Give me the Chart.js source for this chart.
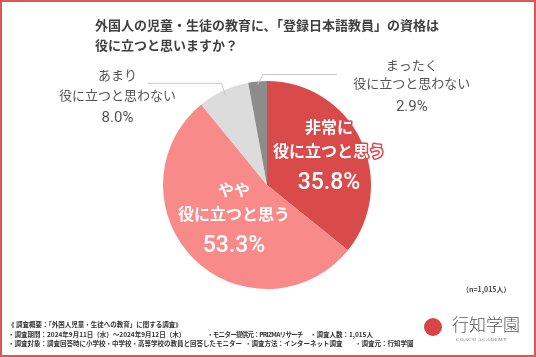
<!DOCTYPE html>
<html><head><meta charset="utf-8">
<script src="https://cdn.jsdelivr.net/npm/chart.js@4"></script>
<style>
body{margin:0;background:#fff}
#wrap{position:relative;width:536px;height:357px;overflow:hidden;background:#fff;font-family:"Noto Sans CJK JP","Noto Sans",sans-serif}
#frame{position:absolute;left:0;top:0;width:536px;height:357px;box-sizing:border-box;border:2px solid #e05555;pointer-events:none}
.t{position:absolute;white-space:nowrap}
.title{left:95px;font-size:13px;font-weight:700;color:#404040;line-height:20px}
.ft{font-size:6.5px;font-weight:700;color:#333;line-height:9px}
</style></head>
<body>
<div id="wrap">
<canvas id="c" width="536" height="357" style="position:absolute;left:0;top:0"></canvas>
<div class="t title" style="top:15px">外国人の児童・生徒の教育に、「登録日本語教員」の資格は</div>
<div class="t title" style="top:35px">役に立つと思いますか？</div>
<div class="t" style="left:462px;top:284px;font-size:7px;color:#444;font-weight:700">（n=1,015人）</div>
<div class="t ft" style="left:8px;top:320px">《 調査概要：「外国人児童・生徒への教育」に関する調査》</div>
<div class="t ft" style="left:8px;top:330px">・調査期間：2024年9月11日（水）～2024年9月12日（木）</div>
<div class="t ft" style="left:207px;top:330px;letter-spacing:-0.7px">・モニター提供元：PRIZMAリサーチ</div>
<div class="t ft" style="left:310px;top:330px">・調査人数：1,015人</div>
<div class="t ft" style="left:8px;top:339px">・調査対象：調査回答時に小学校・中学校・高等学校の教員と回答したモニター</div>
<div class="t ft" style="left:245px;top:339px">・調査方法：インターネット調査</div>
<div class="t ft" style="left:355px;top:339px">・調査元：行知学園</div>
<div style="position:absolute;left:424px;top:318px;width:18px;height:18px;border-radius:50%;background:#d94545"></div>
<div class="t" style="left:452px;top:313px;font-size:17px;line-height:22px;color:#555;font-weight:300">行知学園</div>
<div class="t" style="left:456px;top:337px;font-size:5px;line-height:6px;color:#777;font-family:'Liberation Serif',serif;letter-spacing:0.6px">COACH ACADEMY</div>
<div id="frame"></div>
</div>
<script>
const categories = ['非常に役に立つと思う', 'やや役に立つと思う', 'あまり役に立つと思わない', 'まったく役に立つと思わない'];
const labelLines = [['非常に', '役に立つと思う'], ['やや', '役に立つと思う'], ['あまり', '役に立つと思わない'], ['まったく', '役に立つと思わない']];
const values = [35.8, 53.3, 8.0, 2.9];
const colors = ['#d94a4a', '#f98a8a', '#dcdcdc', '#8c8c8c'];

const labelPlugin = {
  id: 'sliceLabels',
  afterDatasetsDraw(chart) {
    const ctx = chart.ctx;
    const meta = chart.getDatasetMeta(0);
    ctx.save();
    ctx.textAlign = 'center';
    ctx.textBaseline = 'middle';
    meta.data.forEach((arc, i) => {
      const p = arc.getProps(['x', 'y', 'startAngle', 'endAngle', 'outerRadius'], true);
      const mid = (p.startAngle + p.endAngle) / 2;
      const at = f => [p.x + Math.cos(mid) * f * p.outerRadius, p.y + Math.sin(mid) * f * p.outerRadius];
      const pct = values[i].toFixed(1) + '%';
      if (i < 2) {
        const [ax, ay] = at(i === 0 ? 0.66 : 0.45);
        const ys = [ay - 28, ay - 4, ay + 28];
        ctx.lineJoin = 'round';
        ctx.font = '700 16px "Noto Sans CJK JP"';
        labelLines[i].forEach((s, k) => {
          ctx.lineWidth = 3; ctx.strokeStyle = colors[i];
          ctx.strokeText(s, ax, ys[k]);
          ctx.fillStyle = '#fff';
          ctx.fillText(s, ax, ys[k]);
        });
        ctx.font = '500 23px Roboto';
        ctx.fillStyle = '#fff';
        ctx.fillText(pct, ax, ys[2]);
      } else {
        const [x0, y0] = at(i === 2 ? 0.95 : 0.97);
        let x1, y1, x2, tx, ys;
        if (i === 2) {
          x1 = x0 - 4; y1 = y0 - 12; x2 = x1 - 74; tx = x2 - 30;
          ys = [y1 - 8, y1 + 12, y1 + 35];
        } else {
          x1 = x0 + 5; y1 = y0 - 10; x2 = x1 + 74; tx = x2 + 75;
          ys = [y1 - 9, y1 + 9, y1 + 33];
        }
        ctx.strokeStyle = '#c8c8c8'; ctx.lineWidth = 1;
        ctx.beginPath(); ctx.moveTo(x0, y0); ctx.lineTo(x1, y1); ctx.lineTo(x2, y1); ctx.stroke();
        ctx.fillStyle = '#555';
        ctx.font = '400 13px "Noto Sans CJK JP"';
        ctx.fillText(labelLines[i][0], tx, ys[0]);
        ctx.fillText(labelLines[i][1], tx, ys[1]);
        ctx.font = '400 15px Roboto';
        ctx.fillText(pct, tx, ys[2]);
      }
    });
    ctx.restore();
  }
};

new Chart(document.getElementById('c'), {
  type: 'pie',
  data: { labels: categories, datasets: [{ data: values, backgroundColor: colors, borderColor: '#fff', borderWidth: 0 }] },
  options: {
    responsive: false, animation: false, devicePixelRatio: 1,
    layout: { padding: { top: 81, bottom: 68, left: 163, right: 165 } },
    plugins: { legend: { display: false }, tooltip: { enabled: false } }
  },
  plugins: [labelPlugin]
});
</script>
</body></html>
